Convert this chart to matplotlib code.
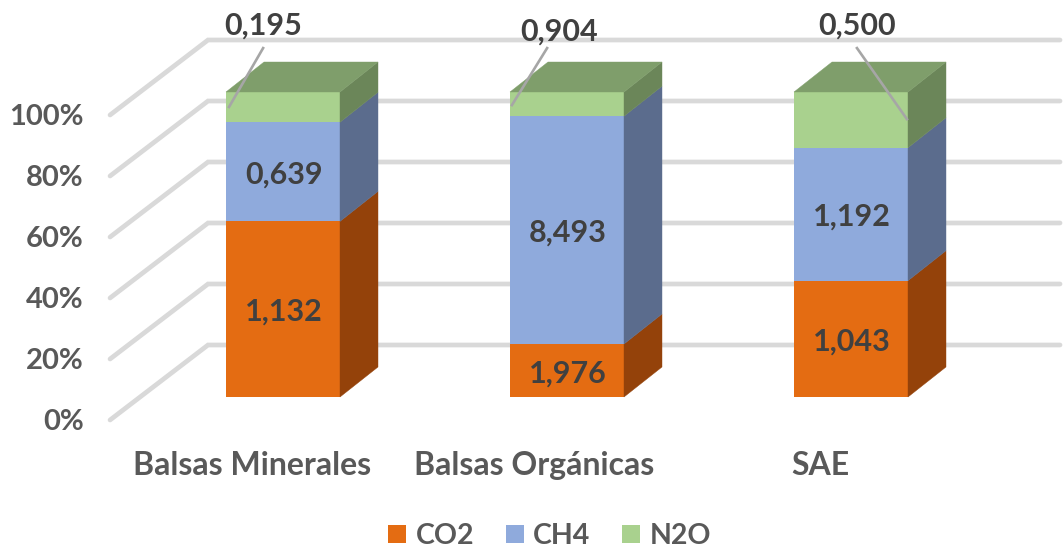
import matplotlib
matplotlib.use("Agg")
import matplotlib.pyplot as plt
import numpy as np
from matplotlib.patches import Polygon, Patch

plt.rcParams['font.family'] = ['Lato', 'DejaVu Sans']

categories = ["Balsas Minerales", "Balsas Orgánicas", "SAE"]
series_names = ["CO2", "CH4", "N2O"]
co2 = [1.132, 1.976, 1.043]
ch4 = [0.639, 8.493, 1.192]
n2o = [0.195, 0.904, 0.500]
percent_ticks = [0, 20, 40, 60, 80, 100]

front_colors = ["#E46C12", "#8FAADC", "#A9D18E"]
side_colors = ["#94420A", "#5B6C8D", "#6B8659"]
top_color = "#7F9E6B"
grid_color = "#D9D9D9"
label_color = "#404040"
tick_color = "#595959"

W, H = 1064, 550
fig = plt.figure(figsize=(W / 100, H / 100), dpi=100)
ax = fig.add_axes([0, 0, 1, 1])

# One category unit spans 284 px and 100 % spans 305 px on the front plane.
ax.set_xlim((0 - 283) / 284, (W - 283) / 284)
ax.set_ylim((397 - H) / 3.05, 397 / 3.05)
ax.axis("off")

bar_width = 114 / 284
depth_x, depth_y = 38 / 284, 30 / 3.05

# Floor and wall gridlines of the oblique projection
wall_left, wall_back, wall_right = -0.609, -0.264, 2.736
front_drop, back_rise = -7.54, 17.05
for p in percent_ticks:
    ax.plot([wall_left, wall_back, wall_right],
            [p + front_drop, p + back_rise, p + back_rise],
            color=grid_color, lw=3.4, solid_capstyle="round",
            solid_joinstyle="miter", zorder=1)
    ax.text(wall_left - 0.093, p + front_drop - 0.7, f"{p}%", ha="right", va="center",
            fontsize=21, fontweight="bold", color=tick_color, zorder=5)

values = np.array([co2, ch4, n2o])
shares = values / values.sum(axis=0) * 100
x = np.arange(len(categories))
bottoms = np.zeros(len(categories))

for s in range(len(series_names)):
    ax.bar(x, shares[s], bar_width, bottom=bottoms, color=front_colors[s],
           linewidth=0, zorder=3)
    for i in x:
        xr = i + bar_width / 2
        y0, y1 = bottoms[i], bottoms[i] + shares[s][i]
        ax.add_patch(Polygon([(xr, y0), (xr + depth_x, y0 + depth_y),
                              (xr + depth_x, y1 + depth_y), (xr, y1)],
                             closed=True, facecolor=side_colors[s],
                             edgecolor=side_colors[s], lw=0.3, zorder=3))
    bottoms = bottoms + shares[s]

# Top faces of the stacks
for i in x:
    xl, xr = i - bar_width / 2, i + bar_width / 2
    ax.add_patch(Polygon([(xl, 100), (xr, 100), (xr + depth_x, 100 + depth_y),
                          (xl + depth_x, 100 + depth_y)],
                         closed=True, facecolor=top_color, edgecolor=top_color,
                         lw=0.3, zorder=3))

# Values inside the CO2 and CH4 segments
for i in x:
    ax.text(i + 0.002, shares[0][i] / 2 - 0.9, f"{co2[i]:.3f}".replace(".", ","),
            ha="center", va="center", fontsize=22, fontweight="bold",
            color=label_color, zorder=6)
    ax.text(i + 0.002, shares[0][i] + shares[1][i] / 2 - 0.9, f"{ch4[i]:.3f}".replace(".", ","),
            ha="center", va="center", fontsize=22, fontweight="bold",
            color=label_color, zorder=6)

# N2O values sit above the stacks with leader lines
n2o_label_offsets = [(-0.07, 121.9), (-0.028, 119.9), (0.021, 121.9)]
leader_starts = [(-0.07, 114.4), (-0.07, 114.4), (0.021, 114.4)]
leader_ends = [(-0.19, 95.1), (-0.194, 95.7), (0.197, 91.1)]
for i in x:
    dx, y = n2o_label_offsets[i]
    ax.text(i + dx, y, f"{n2o[i]:.3f}".replace(".", ","), ha="center", va="center",
            fontsize=22, fontweight="bold", color=label_color, zorder=6)
    sx, sy = leader_starts[i]
    ex, ey = leader_ends[i]
    ax.plot([i + sx, i + ex], [sy, ey], color="#A6A6A6", lw=1.9, zorder=5)

# Category names below the floor
category_offsets = [-0.109, -0.116, -0.109]
for i, name in enumerate(categories):
    ax.text(i + category_offsets[i], -22.4, name, ha="center", va="center",
            fontsize=23, fontweight="bold", color=tick_color)

handles = [Patch(facecolor=c, edgecolor="none") for c in front_colors]
ax.legend(handles, series_names, loc="center", bbox_to_anchor=(549.5 / W, 1 - 536 / H),
          ncol=3, frameon=False, labelcolor=tick_color,
          prop={"size": 20.5, "weight": "bold"},
          handlelength=0.64, handleheight=0.64, handletextpad=0.33, columnspacing=1.1,
          borderpad=0, borderaxespad=0)

fig.savefig("out.png", dpi=100)
